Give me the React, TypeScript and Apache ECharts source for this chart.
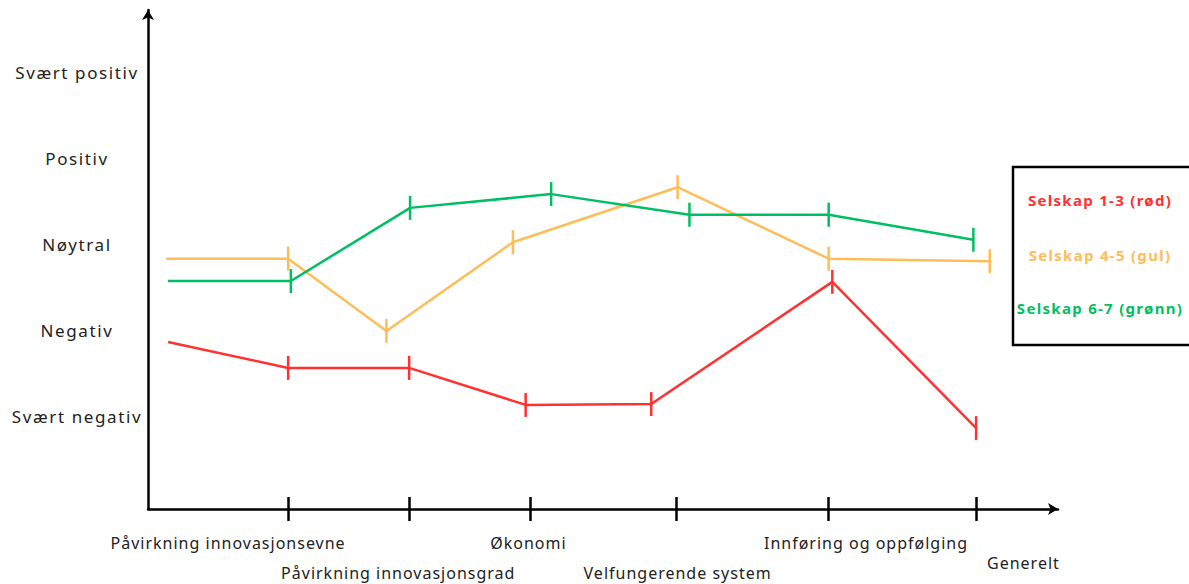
import React, { useEffect, useRef } from "react";
import * as echarts from "echarts";

// Y scale: 1 = Svært negativ ... 5 = Svært positiv
const yLevels = ["Svært negativ", "Negativ", "Nøytral", "Positiv", "Svært positiv"];

// X positions on a 0–100 scale along the horizontal axis
const xTickPositions = [15.4, 28.7, 42.0, 58.0, 74.8, 91.0];
const xLabelPositions = [8.8, 27.5, 41.8, 58.2, 78.9, 96.2];
const xLabels = [
  "Påvirkning innovasjonsevne",
  "Påvirkning innovasjonsgrad",
  "Økonomi",
  "Velfungerende system",
  "Innføring og oppfølging",
  "Generelt",
];
const xLabelRows = ["r1", "r2", "r1", "r2", "r1", "r3"];

const redX = [2.2, 15.4, 28.7, 41.5, 55.3, 75.2, 91.0];
const redY = [1.87, 1.57, 1.57, 1.14, 1.15, 2.57, 0.87];
const orangeX = [2.0, 15.4, 26.2, 40.1, 58.2, 74.8, 92.5];
const orangeY = [2.84, 2.84, 2.0, 3.03, 3.67, 2.84, 2.81];
const greenX = [2.2, 15.7, 28.8, 44.3, 59.5, 74.8, 90.7];
const greenY = [2.58, 2.58, 3.43, 3.59, 3.35, 3.35, 3.06];

const seriesNames = ["Selskap 1-3 (rød)", "Selskap 4-5 (gul)", "Selskap 6-7 (grønn)"];
const seriesColors = ["#ff3131", "#ffbd59", "#00bf63"];

const FONT = "'Noto Sans', 'Open Sans', sans-serif";

function buildData(xs: number[], ys: number[]) {
  return xs.map((x, i) =>
    i === 0 ? { value: [x, ys[i]], symbol: "none" } : { value: [x, ys[i]] }
  );
}

export default function App() {
  const ref = useRef<HTMLDivElement>(null);
  useEffect(() => {
    if (!ref.current) return;
    const el = ref.current;
    const chart = echarts.init(el, null, { renderer: "svg" });
    const lineSeries = [
      [redX, redY],
      [orangeX, orangeY],
      [greenX, greenY],
    ].map(([xs, ys], i) => ({
      type: "line",
      name: seriesNames[i],
      data: buildData(xs, ys),
      symbol: "rect",
      symbolSize: [2.5, 24],
      showSymbol: true,
      lineStyle: { color: seriesColors[i], width: 2.5 },
      itemStyle: { color: seriesColors[i] },
      z: 3,
    }));

    const richBase = { fontSize: 16, fontFamily: FONT, color: "#222" };

    chart.setOption({
      animation: false,
      backgroundColor: "#ffffff",
      grid: { left: 148, right: 131, top: 10, bottom: 75 },
      xAxis: [
        {
          type: "value",
          min: 0,
          max: 100,
          splitLine: { show: false },
          axisLine: {
            show: true,
            onZero: false,
            symbol: ["none", "arrow"],
            symbolSize: [9, 10],
            lineStyle: { color: "#000", width: 2.5 },
          },
          axisTick: {
            show: true,
            length: 12,
            customValues: xTickPositions,
            lineStyle: { color: "#000", width: 2.5 },
          },
          axisLabel: {
            show: true,
            customValues: xLabelPositions,
            margin: 26,
            fontFamily: FONT,
            fontSize: 16,
            color: "#222",
            verticalAlign: "top",
            formatter: (v: number) => {
              const i = xLabelPositions.findIndex((p) => Math.abs(p - v) < 0.01);
              if (i < 0) return "";
              return `{${xLabelRows[i]}|${xLabels[i]}}`;
            },
            rich: {
              r1: { ...richBase, padding: [0, 0, 0, 0] },
              r2: { ...richBase, padding: [30, 0, 0, 0] },
              r3: { ...richBase, padding: [20, 0, 0, 0] },
            },
          },
        },
        {
          type: "value",
          min: 0,
          max: 100,
          position: "bottom",
          splitLine: { show: false },
          axisLine: { show: false, onZero: false },
          axisTick: {
            show: true,
            inside: true,
            length: 12,
            customValues: xTickPositions,
            lineStyle: { color: "#000", width: 2.5 },
          },
          axisLabel: { show: false },
        },
      ],
      yAxis: {
        type: "value",
        min: -0.07,
        max: 5.73,
        minInterval: 1,
        maxInterval: 1,
        splitLine: { show: false },
        axisTick: { show: false },
        axisLine: {
          show: true,
          onZero: false,
          symbol: ["none", "arrow"],
          symbolSize: [9, 10],
          lineStyle: { color: "#000", width: 2.5 },
        },
        axisLabel: {
          margin: 71,
          align: "center",
          fontSize: 17,
          fontFamily: FONT,
          color: "#222",
          showMinLabel: false,
          showMaxLabel: false,
          formatter: (v: number) => {
            const r = Math.round(v);
            if (Math.abs(v - r) > 1e-6 || r < 1 || r > 5) return "";
            return yLevels[r - 1];
          },
        },
      },
      graphic: [
        {
          type: "rect",
          shape: { x: 1013, y: 167, width: 190, height: 178 },
          style: { fill: "#fff", stroke: "#000", lineWidth: 2.5 },
          z: 10,
        },
        ...seriesNames.map((n, i) => ({
          type: "text",
          x: 1100,
          y: [200, 255, 308][i],
          z: 11,
          style: {
            text: n,
            fill: seriesColors[i],
            font: `bold 15px ${FONT}`,
            align: "center",
            verticalAlign: "middle",
          },
        })),
      ],
      series: lineSeries,
    });

    const applySpacing = () => {
      el.querySelectorAll("text").forEach((t) => {
        const cs = window.getComputedStyle(t as Element);
        const size = parseFloat(cs.fontSize);
        const bold = parseInt(cs.fontWeight, 10) >= 600 || cs.fontWeight === "bold";
        let ls = "1";
        if (bold) ls = "1.3";
        else if (size >= 17) ls = "1.6";
        else ls = "1";
        t.setAttribute("letter-spacing", ls);
      });
    };
    applySpacing();
    chart.on("finished", applySpacing);
    return () => chart.dispose();
  }, []);
  return (
    <div
      ref={ref}
      style={{ position: "fixed", left: 0, top: 0, width: 1189, height: 584 }}
    />
  );
}
